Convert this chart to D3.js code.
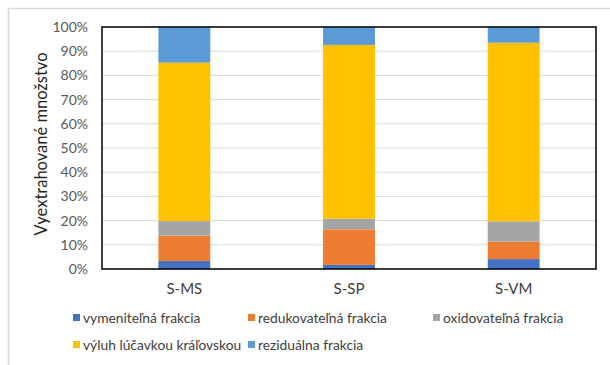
<!DOCTYPE html>
<html>
<head>
<meta charset="utf-8">
<script src="https://cdn.jsdelivr.net/npm/d3@7"></script>
<style>
  html, body { margin: 0; padding: 0; background: #fff; }
  svg text { font-family: Lato, "Open Sans", sans-serif; }
</style>
</head>
<body>
<svg id="chart" width="610" height="365"></svg>
<script>
// Sample sites
const categories = ["S-MS", "S-SP", "S-VM"];

// Fraction names (stack order bottom to top)
const seriesNames = [
  "vymeniteľná frakcia",
  "redukovateľná frakcia",
  "oxidovateľná frakcia",
  "výluh lúčavkou kráľovskou",
  "reziduálna frakcia"
];

// Share of each fraction per site, in %
const vymenitelna   = [3.3, 1.7, 4.1];
const redukovatelna = [10.5, 14.7, 7.2];
const oxidovatelna  = [6.0, 4.4, 8.4];
const vyluh         = [65.5, 71.8, 73.8];
const rezidualna    = [14.7, 7.4, 6.5];

const yTicks = [0, 10, 20, 30, 40, 50, 60, 70, 80, 90, 100];

const colors = ["#4472C4", "#ED7D31", "#A5A5A5", "#FFC000", "#5B9BD5"];

const seriesValues = [vymenitelna, redukovatelna, oxidovatelna, vyluh, rezidualna];
const rows = categories.map((c, i) => {
  const r = { cat: c };
  seriesNames.forEach((s, k) => { r[s] = seriesValues[k][i]; });
  return r;
});

const svg = d3.select("#chart");
const W = 610, H = 365;
const plot = { left: 102, right: 596, top: 27, bottom: 269 };

// outer chart frame
svg.append("path")
  .attr("d", `M8.5,${H} L8.5,8.5 L${W},8.5`)
  .attr("fill", "none")
  .attr("stroke", "#d9d9d9")
  .attr("stroke-width", 1.5);

const x = d3.scaleBand().domain(categories).range([plot.left, plot.right]).paddingInner(0.685).paddingOuter(0.3425);
const y = d3.scaleLinear().domain([0, 100]).range([plot.bottom, plot.top]);

// gridlines
svg.append("g")
  .selectAll("line")
  .data(yTicks)
  .join("line")
  .attr("x1", plot.left).attr("x2", plot.right)
  .attr("y1", d => y(d)).attr("y2", d => y(d))
  .attr("stroke", "#d9d9d9").attr("stroke-width", 1);

// stacked bars
const stack = d3.stack().keys(seriesNames)(rows);
svg.append("g")
  .selectAll("g")
  .data(stack)
  .join("g")
  .attr("fill", (d, i) => colors[i])
  .selectAll("rect")
  .data(d => d)
  .join("rect")
  .attr("x", d => x(d.data.cat))
  .attr("width", x.bandwidth())
  .attr("y", d => y(d[1]))
  .attr("height", d => y(d[0]) - y(d[1]));

// plot area border
svg.append("rect")
  .attr("x", plot.left).attr("y", plot.top)
  .attr("width", plot.right - plot.left).attr("height", plot.bottom - plot.top)
  .attr("fill", "none").attr("stroke", "#000").attr("stroke-width", 1.5);

// y axis labels
const yAxis = d3.axisLeft(y).tickValues(yTicks).tickFormat(d => d + "%").tickSize(0).tickPadding(14);
const gy = svg.append("g").attr("transform", `translate(${plot.left},0)`).call(yAxis);
gy.select(".domain").remove();
gy.selectAll("text").attr("fill", "#595959").style("font-size", "14px").style("font-family", "Lato, sans-serif");

// x axis labels
const xAxis = d3.axisBottom(x).tickSize(0).tickPadding(14);
const gx = svg.append("g").attr("transform", `translate(0,${plot.bottom})`).call(xAxis);
gx.select(".domain").remove();
gx.selectAll("text").attr("fill", "#404040").style("font-size", "15px").style("font-family", "Lato, sans-serif");

// y axis title
svg.append("text")
  .attr("transform", `translate(47,${144}) rotate(-90)`)
  .attr("text-anchor", "middle")
  .attr("fill", "#262626")
  .style("font-size", "16.5px")
  .text("Vyextrahované množstvo");

// legend
const legendPos = [[73, 318], [248, 318], [433, 318], [73, 345], [248, 345]];
const lg = svg.append("g")
  .selectAll("g")
  .data(seriesNames)
  .join("g")
  .attr("transform", (d, i) => `translate(${legendPos[i][0]},${legendPos[i][1]})`);
lg.append("rect")
  .attr("x", 0).attr("y", -4).attr("width", 7).attr("height", 7)
  .attr("fill", (d, i) => colors[i]);
lg.append("text")
  .attr("x", 10).attr("y", 0).attr("dy", "0.35em")
  .attr("fill", "#404040")
  .style("font-size", "13.8px")
  .text(d => d);
</script>
</body>
</html>
